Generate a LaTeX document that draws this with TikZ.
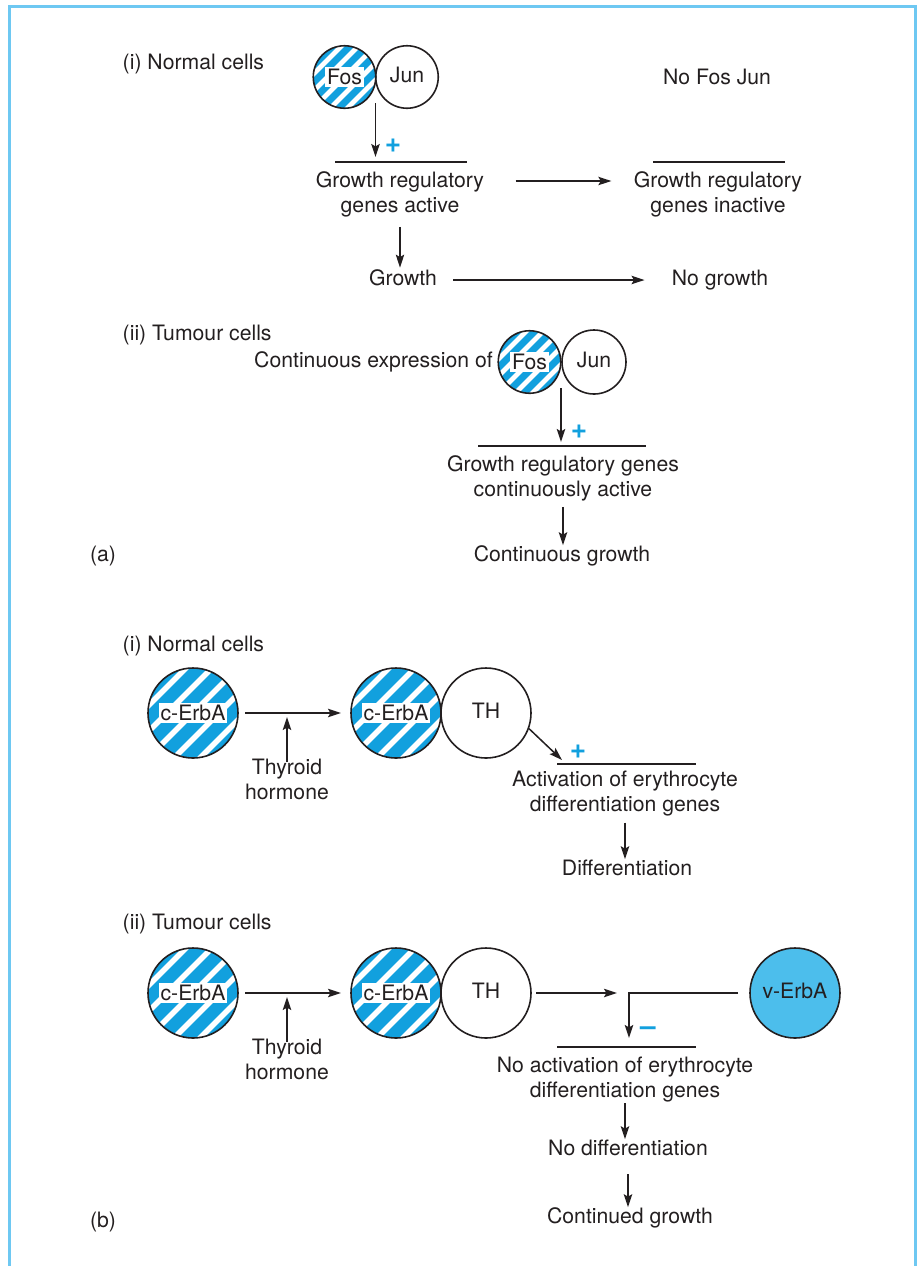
\documentclass[tikz,border=0pt]{standalone}
\usepackage{fontspec}
\setmainfont{TeX Gyre Heros}
\usepackage{xcolor}
\usetikzlibrary{arrows.meta}

\definecolor{stripeblue}{RGB}{18,160,222}
\definecolor{cellblue}{RGB}{76,190,236}
\definecolor{frameblue}{RGB}{110,200,242}
\definecolor{ink}{RGB}{35,31,32}
\newcommand{\lblfont}{\fontsize{10.6}{12.5}\selectfont}

\begin{document}
\begin{tikzpicture}[x=0.5pt, y=-0.5pt, color=ink, font=\lblfont, line width=0.75pt,
    txt/.style = {align=center, inner sep=0pt},
    one/.style = {inner sep=0pt, text height=7.7pt, text depth=2.3pt},
    arr/.style = {-{Stealth[length=6.5pt, width=4.2pt, inset=1.2pt]}},
    sign/.style = {text=stripeblue, inner sep=0pt, font=\fontsize{14}{16}\selectfont\bfseries},
    cell/.style = {circle, draw=ink, line width=0.8pt, inner sep=0pt, minimum size=#1, text height=7.7pt, text depth=2.3pt},
    striped/.style args = {#1/#2/#3}{cell=#1, fill=stripeblue, path picture={
        \foreach \k in {-6,...,6}
          \draw[white, line width=#3] ([xshift=\k*#2]path picture bounding box.center) ++(225:45pt) -- ++(45:90pt);}},
    fos/.style = {striped=31.25pt/8.5pt/2.4pt},
    erba/.style = {striped=45pt/13pt/2.8pt},
    tag/.style = {fill=white, inner xsep=1pt, inner ysep=1.2pt, text height=7.7pt, text depth=0.3pt},
    frame/.style = {frameblue, line width=1.5pt}]

    \useasboundingbox (0,0) rectangle (919,1266);
    \draw[frame] (9.5,1266) -- (9.5,6.5) -- (915.5,6.5) -- (915.5,1266);

    % (a) Fos/Jun, normal cells
    \node[one, anchor=west] (normA) at (122,64) {(i) Normal cells};
    \node[fos] (fosA) at (344.5,77) {};
    \node[tag] (fosAt) at (fosA) {Fos};
    \node[cell=31.25pt] (junA) at (407,77) {Jun};
    \node[one] (nofj) at (717,79) {No Fos Jun};

    \coordinate (fjA) at (375.5,103);
    \draw[arr] (fjA) -- ++(0,54);
    \node[sign] (plusA) at (393,146) {+};
    \draw (335,162) -- (467,162);
    \draw (653,162) -- (785,162);
    \node[txt] (gra) at (400,194) {Growth regulatory\\genes active};
    \node[txt] (gri) at (718,194) {Growth regulatory\\genes inactive};
    \draw[arr, shorten <=15.4pt, shorten >=10.9pt] ([yshift=6.5pt]gra.east) -- ([yshift=6.5pt]gri.west);

    \node[one] (growth) at (403,280) {Growth};
    \node[one] (nogrowth) at (720,280) {No growth};
    \draw[arr, shorten <=4.7pt, shorten >=0.8pt] (gra.south) -- (gra.south |- growth.north);
    \draw[arr, shorten <=7.7pt, shorten >=13.3pt] (growth) -- (nogrowth);

    % (a) tumour cells
    \node[one, anchor=west] (tumA) at (122,335) {(ii) Tumour cells};
    \node[fos] (fosB) at (529.5,362) {};
    \node[tag] (fosBt) at (fosB) {Fos};
    \node[cell=32pt] (junB) at (594,362) {Jun};
    \node[one, anchor=east, xshift=-2pt] (contexp) at (fosB.west) {Continuous expression of};

    \coordinate (fjB) at (561,388);
    \draw[arr] (fjB) -- ++(0,54);
    \node[sign] (plusB) at (579,432) {+};
    \draw (478,446) -- (646,446);
    \node[txt] (grc) at (563,478) {Growth regulatory genes\\continuously active};
    \node[one] (contg) at (562,556) {Continuous growth};
    \draw[arr, shorten <=2.7pt] (grc.south) -- (grc.south |- contg.north);
    \node[one] (pa) at (103,556) {(a)};

    % (b) c-ErbA, normal cells
    \node[one, anchor=west] (normB) at (122,646) {(i) Normal cells};
    \node[erba] (erbA) at (193,713) {};
    \node[tag] (erbAt) at (erbA) {c-ErbA};
    \node[erba] (erbB) at (396,713) {};
    \node[tag] (erbBt) at (erbB) {c-ErbA};
    \node[cell=45pt] (thA) at (486,713) {TH};
    \draw[arr, shorten <=3.1pt, shorten >=4.6pt] (erbA) -- (erbB);
    \node[txt] (thyA) at (287,779) {Thyroid\\hormone};
    \draw[arr, shorten <=-2pt, shorten >=2pt] (thyA.north) -- (thyA.north |- erbA);

    \coordinate (actA) at (562,760);
    \draw[arr] (thA.-20) -- (actA);
    \node[sign] (plusC) at (578,752) {+};
    \draw (557,764) -- (696,764);
    \node[txt] (act) at (625,794) {Activation of erythrocyte\\differentiation genes};
    \node[one] (diff) at (627,870) {Differentiation};
    \draw[arr, shorten <=2.7pt] (act.south) -- (act.south |- diff.north);

    % (b) tumour cells, v-ErbA blocks the genes
    \node[one, anchor=west] (tumB) at (122,924) {(ii) Tumour cells};
    \node[erba] (erbC) at (193,993) {};
    \node[tag] (erbCt) at (erbC) {c-ErbA};
    \node[erba] (erbD) at (396,993) {};
    \node[tag] (erbDt) at (erbD) {c-ErbA};
    \node[cell=45pt] (thB) at (486,993) {TH};
    \node[cell=45pt, fill=cellblue] (verb) at (795,993) {v-ErbA};
    \draw[arr, shorten <=3.1pt, shorten >=4.6pt] (erbC) -- (erbD);
    \node[txt] (thyB) at (287,1059) {Thyroid\\hormone};
    \draw[arr, shorten <=-2pt, shorten >=2pt] (thyB.north) -- (thyB.north |- erbC);

    \coordinate (thend) at (617,993);
    \coordinate (inh) at (629,1038);
    \draw[arr, shorten <=2.1pt] (thB.east) -- (thend);
    \draw[arr, shorten <=5.6pt] (verb.west) -| (inh);
    \node[sign] (minus) at (648,1031) {–};
    \draw (557,1047) -- (696,1047);
    \node[txt] (noact) at (625,1080) {No activation of erythrocyte\\differentiation genes};
    \node[one] (nodiff) at (628,1150) {No differentiation};
    \node[one] (contgr) at (630,1218) {Continued growth};
    \draw[arr] (noact.south) -- (noact.south |- nodiff.north);
    \draw[arr, shorten <=6.7pt] (nodiff.south) -- (nodiff.south |- contgr.north);
    \node[one] (pb) at (103,1222) {(b)};
\end{tikzpicture}
\end{document}
